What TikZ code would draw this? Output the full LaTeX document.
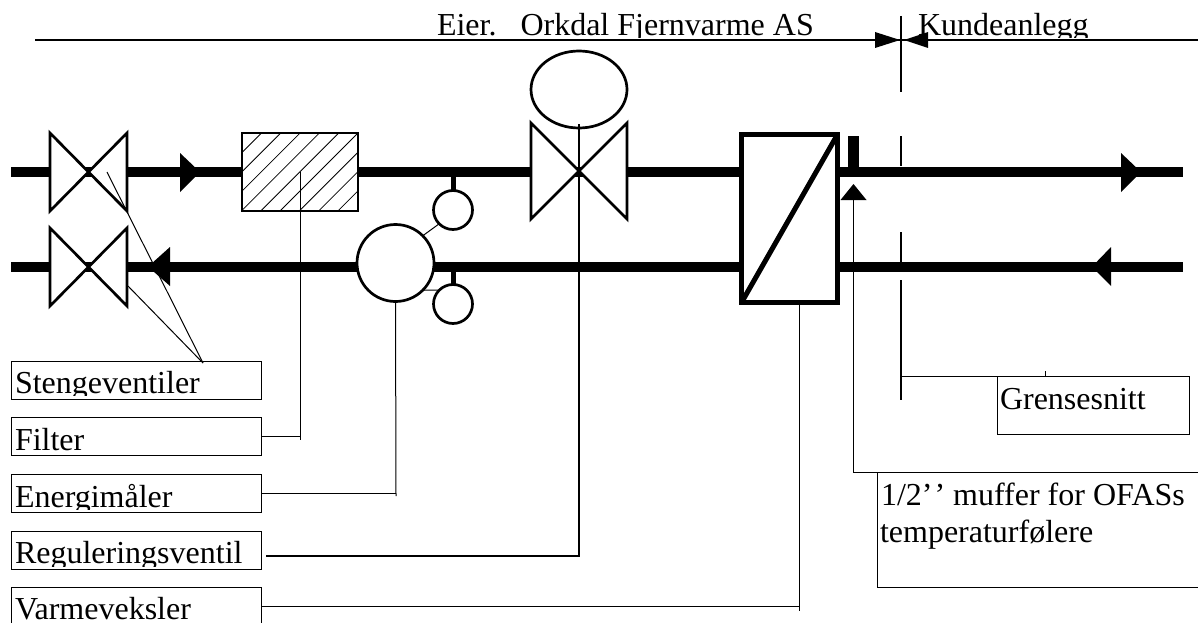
\documentclass[tikz,border=0pt]{standalone}
\usepackage{fontspec}
\usetikzlibrary{shapes.geometric}
\setmainfont{Liberation Serif}
\tikzset{
  every node/.style={inner sep=0pt,outer sep=0pt},
  txt/.style={anchor=base west,font=\fontsize{32}{36}\selectfont},
  labelbox/.style={draw=black,line width=1pt,anchor=north west,minimum width=249.5pt,minimum height=38pt},
  thinline/.style={draw=black,line width=1pt},
  midline/.style={draw=black,line width=1.9pt},
  pipe/.style={draw=black,line width=10.4pt},
  part/.style={draw=black,fill=white,line width=2.7pt},
  head/.style={fill=black,draw=none},
}
\begin{document}
\begin{tikzpicture}[x=1pt,y=-1pt]
\useasboundingbox (0,0) rectangle (1198,623);
% pipes
\coordinate (p1a) at (11,172); \coordinate (p1b) at (1183,172);
\coordinate (p2a) at (11,266.7); \coordinate (p2b) at (1183,266.7);
\draw[pipe] (p1a) -- (p1b);
\draw[pipe] (p2a) -- (p2b);
% flow arrowheads
\fill[head] (180,153) -- (200,172) -- (180,192) -- cycle;
\fill[head] (148,266.7) -- (170,247) -- (170,286) -- cycle;
\fill[head] (1121,153) -- (1141,172) -- (1121,192) -- cycle;
\fill[head] (1092,266.7) -- (1111,247) -- (1111,286) -- cycle;
% stop valves
\draw[part,line join=miter] (50,133) -- (127,211) -- (127,133) -- (50,211) -- cycle;
\draw[part,line join=miter] (50,228) -- (127,306) -- (127,228) -- (50,306) -- cycle;
% filter
\node[draw=black,fill=white,line width=2.4pt,minimum width=116pt,minimum height=78pt,anchor=north west] (filter) at (242,133) {};
\begin{scope}
\clip (242,133) rectangle (358,211);
\foreach \c in {394.5,413.8,...,570}{
  \draw[line width=.8pt] (\c-211,211) -- (\c-133,133);
}
\end{scope}
\draw[line width=2.4pt] (242,133) rectangle (358,211);
% meter stubs and meter
\coordinate (tapa) at (453,172); \coordinate (tapb) at (453,266.7);
\node[circle,part,minimum size=39pt] (smalla) at (453,210) {};
\node[circle,part,minimum size=39pt] (smallb) at (453,304) {};
\node[circle,part,minimum size=77pt] (meter) at (395.5,263) {};
\draw[draw=black,line width=5pt] (tapa) -- (smalla.north);
\draw[draw=black,line width=5pt] (tapb) -- (smallb.north);
\draw[thinline] (meter.45) -- (smalla.225);
\draw[thinline] (meter.-45) -- (smallb.135);
% control valve
\draw[part,line join=miter] (531,123) -- (627,219) -- (627,123) -- (531,219) -- cycle;
\node[ellipse,part,minimum width=96pt,minimum height=77pt] (actuator) at (579,89.5) {};
% heat exchanger
\node[draw=black,fill=white,line width=5pt,minimum width=96pt,minimum height=168pt,anchor=north west] (hx) at (741.5,134.5) {};
\draw[draw=black,line width=5pt] (hx.south west) -- (hx.north east);
% temperature socket
\coordinate (socka) at (853.5,136); \coordinate (sockb) at (853.5,172);
\draw[draw=black,line width=10.5pt] (socka) -- (sockb);
% top texts
\begin{scope}
\clip (430,0) rectangle (1198,37.5);
\node[txt] (owner) at (437,36) {Eier.\hspace{24pt}Orkdal Fjernvarme AS};
\node[txt] (customer) at (918,36) {Kundeanlegg};
\end{scope}
\coordinate (topa) at (35,40); \coordinate (topb) at (1198,40);
\draw[thinline,line width=1.3pt] (topa) -- (topb);
\fill[head] (875,32) -- (900,40) -- (875,48) -- cycle;
\fill[head] (904,40) -- (928,32) -- (928,48) -- cycle;
% boundary
\draw[midline] (901,16) -- (901,92);
\draw[midline] (901,136) -- (901,166);
\draw[midline] (901,232) -- (901,262);
\draw[midline] (901,280) -- (901,400);
% label boxes
\node[labelbox] (stenge) at (11.5,361) {};
\node[labelbox] (filterbox) at (11.5,417.5) {};
\node[labelbox] (energi) at (11.5,474) {};
\node[labelbox] (regul) at (11.5,531.5) {};
\node[labelbox] (varme) at (11.5,587) {};
\begin{scope}
\clip (11.5,361) rectangle (261,395);
\node[txt] (tstenge) at (15,393) {Stengeventiler};
\end{scope}
\node[txt] (tfilter) at (15,450) {Filter};
\begin{scope}
\clip (11.5,474) rectangle (261,509);
\node[txt] (tenergi) at (15,507) {Energimåler};
\end{scope}
\begin{scope}
\clip (11.5,531.5) rectangle (261,566);
\node[txt] (tregul) at (15,563) {Reguleringsventil};
\end{scope}
\node[txt] (tvarme) at (15,619) {Varmeveksler};
% Grensesnitt
\node[draw=black,line width=1pt,anchor=north west,minimum width=192pt,minimum height=58pt] (grense) at (997.5,376) {};
\node[txt] (tgrense) at (1000,409) {Grensesnitt};
\coordinate (gr1) at (901,376);
\coordinate (gr2) at (1045,371); \coordinate (gr3) at (1045,376);
\draw[thinline] (gr1) -- (grense.north west);
\draw[thinline] (gr2) -- (gr3);
% muffer note
\coordinate (mua) at (853.5,200); \coordinate (mub) at (853.5,472); \coordinate (muc) at (1198,472);
\coordinate (mud) at (877.5,472); \coordinate (mue) at (877.5,587); \coordinate (muf) at (1198,587);
\fill[head] (853.5,184) -- (866.5,200) -- (840.5,200) -- cycle;
\draw[thinline] (mua) -- (mub) -- (muc);
\draw[thinline] (mud) -- (mue) -- (muf);
\node[txt] (tmuffer) at (881,505) {1/2’\kern2pt’ muffer for OFASs};
\node[txt] (ttemp) at (880,542) {temperaturfølere};
% leaders
\coordinate (stv1) at (107,172); \coordinate (stv2) at (128,286); \coordinate (stv) at (203,363);
\draw[thinline] (stv1) -- (stv);
\draw[thinline] (stv2) -- (stv);
\coordinate (fl1) at (300,172); \coordinate (fl2) at (300,440); \coordinate (fl3) at (300,436.5);
\draw[thinline] (fl1) -- (fl2);
\draw[thinline] (filterbox.east) -- (fl3);
\coordinate (en1) at (396,496); \coordinate (en2) at (396,493);
\draw[thinline] (meter.south) -- (en1);
\draw[thinline] (energi.east) -- (en2);
\coordinate (rg1) at (579,124); \coordinate (rg2) at (579,555.7); \coordinate (rg3) at (266,555.7);
\draw[midline] (rg1) -- (rg2) -- (rg3);
\coordinate (vx1) at (799,305); \coordinate (vx2) at (799,611); \coordinate (vx3) at (799,606);
\draw[thinline] (vx1) -- (vx2);
\draw[thinline] (varme.east) -- (vx3);
\end{tikzpicture}
\end{document}
